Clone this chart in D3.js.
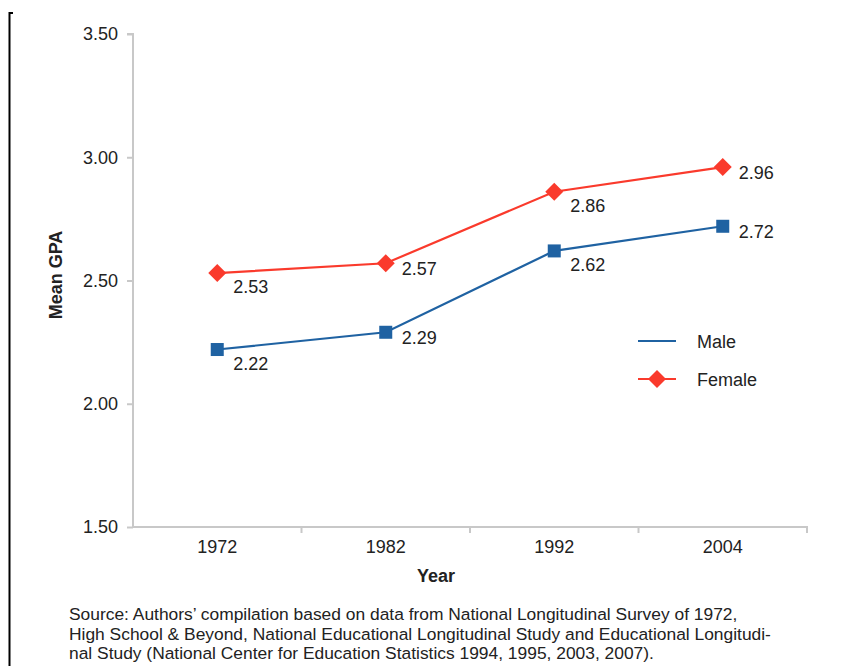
<!DOCTYPE html>
<html><head><meta charset="utf-8">
<script src="https://cdn.jsdelivr.net/npm/d3@7"></script>
<style>body{margin:0;background:#fff;}svg{display:block;font-family:"Liberation Sans",Arial,sans-serif;}</style>
</head><body>
<script>
const years = ["1972","1982","1992","2004"];
const maleValues = [2.22, 2.29, 2.62, 2.72];
const femaleValues = [2.53, 2.57, 2.86, 2.96];
const yTicks = [1.5, 2.0, 2.5, 3.0, 3.5];
const seriesNames = ["Male","Female"];
const sourceLines = [
  "Source: Authors\u2019 compilation based on data from National Longitudinal Survey of 1972,",
  "High School & Beyond, National Educational Longitudinal Study and Educational Longitudi-",
  "nal Study (National Center for Education Statistics 1994, 1995, 2003, 2007)."
];

const W = 864, H = 666;
const svg = d3.select("body").append("svg").attr("width", W).attr("height", H);
const m = {left:133, right:807, top:34, bottom:527};
const blue = "#1f62a2", red = "#fa3a2c", axisCol = "#c8c8c8", textCol = "#222";
const fs = "18px";

// frame line at left
svg.append("path").attr("d","M13,13H9.5V666").attr("fill","none").attr("stroke","#000").attr("stroke-width",2);

const x = d3.scaleBand().domain(years).range([m.left, m.right]);
const y = d3.scaleLinear().domain([1.5, 3.5]).range([m.bottom, m.top]);

// y axis
const yAxis = svg.append("g").attr("transform",`translate(${m.left},0)`)
  .call(d3.axisLeft(y).tickValues(yTicks).tickFormat(d3.format(".2f")).tickSize(6).tickPadding(9));
yAxis.select(".domain").attr("stroke",axisCol).attr("stroke-width",2).attr("d",`M-6,${m.top}H0V${m.bottom}`);
yAxis.selectAll(".tick line").attr("stroke",axisCol).attr("stroke-width",2);
yAxis.selectAll("text").attr("fill",textCol).style("font-size",fs).style("font-family","Liberation Sans, Arial, sans-serif");

// x axis
const xAxis = svg.append("g").attr("transform",`translate(0,${m.bottom})`)
  .call(d3.axisBottom(x).tickSize(0).tickPadding(13));
xAxis.select(".domain").attr("stroke",axisCol).attr("stroke-width",2).attr("d",`M${m.left},0H${m.right}V6`);
xAxis.selectAll(".tick line").remove();
xAxis.selectAll("text").attr("fill",textCol).style("font-size",fs).style("font-family","Liberation Sans, Arial, sans-serif");
xAxis.selectAll("line.bt").data(years.slice(1)).enter().append("line")
  .attr("x1",d=>x(d)).attr("x2",d=>x(d)).attr("y1",0).attr("y2",6)
  .attr("stroke",axisCol).attr("stroke-width",2);

// axis titles
svg.append("text").attr("x",436).attr("y",582).attr("text-anchor","middle")
  .attr("font-weight","bold").attr("font-size",fs).attr("fill",textCol).text("Year");
svg.append("text").attr("transform","translate(62,275) rotate(-90)").attr("text-anchor","middle")
  .attr("font-weight","bold").attr("font-size",fs).attr("fill",textCol).text("Mean GPA");

const cx = d => x(d) + x.bandwidth()/2;
const line = d3.line().x(d=>cx(d.year)).y(d=>y(d.v));

const series = [
  {name:seriesNames[0], color:blue, values:maleValues, shape:"square"},
  {name:seriesNames[1], color:red, values:femaleValues, shape:"diamond"}
];
function marker(g, s, px, py){
  if (s.shape === "square") {
    g.append("rect").attr("x",px-6.5).attr("y",py-6.5).attr("width",13).attr("height",13).attr("fill",s.color);
  } else {
    g.append("path").attr("d",`M${px},${py-9}L${px+9},${py}L${px},${py+9}L${px-9},${py}Z`).attr("fill",s.color);
  }
}

series.forEach(s => {
  const pts = years.map((yr,i)=>({year:yr, v:s.values[i]}));
  svg.append("path").datum(pts).attr("d",line).attr("fill","none").attr("stroke",s.color).attr("stroke-width",2.2);
  const g = svg.append("g");
  pts.forEach((p,i) => {
    marker(g, s, cx(p.year), y(p.v));
    g.append("text").attr("x",cx(p.year)+16).attr("y",y(p.v)+(i%2===0?20:12))
      .attr("font-size",fs).attr("fill",textCol).text(d3.format(".2f")(p.v));
  });
});

// legend
series.forEach((s,i) => {
  const ly = 341 + i*38;
  const g = svg.append("g");
  g.append("line").attr("x1",638).attr("x2",676).attr("y1",ly).attr("y2",ly).attr("stroke",s.color).attr("stroke-width",2.2);
  if (s.shape === "diamond") marker(g, s, 657, ly);
  g.append("text").attr("x",697).attr("y",ly+6.5).attr("font-size",fs).attr("fill",textCol).text(s.name);
});

// source
svg.append("g").selectAll("text").data(sourceLines).enter().append("text")
  .attr("x",69).attr("y",(d,i)=>620+i*19.5).attr("font-size","17.4px").attr("fill",textCol).text(d=>d);
</script>
</body></html>
